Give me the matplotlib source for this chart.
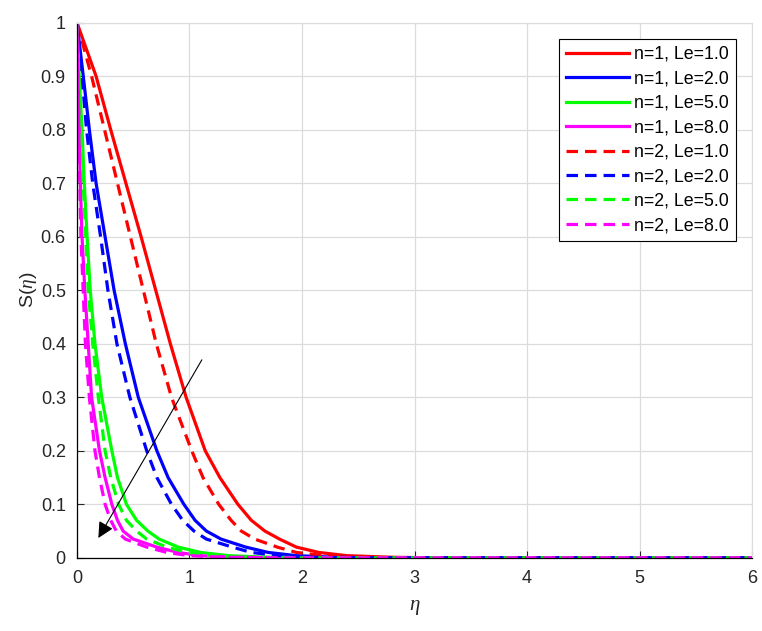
import matplotlib
matplotlib.use("Agg")
import matplotlib.pyplot as plt

plt.rcParams['font.family'] = ['Liberation Sans', 'DejaVu Sans']
plt.rcParams['mathtext.fontset'] = 'custom'
plt.rcParams['mathtext.it'] = 'Liberation Serif:italic'

# S levels shared by all curves
s_levels = [1, 0.9, 0.8, 0.7, 0.6, 0.5, 0.4, 0.3, 0.2, 0.15, 0.1, 0.07, 0.05,
            0.035, 0.02, 0.01, 0.004, 0.001, 0, 0]

# eta positions at which each curve reaches the S levels above
eta_n1_le1 = [0, 0.17, 0.30, 0.435, 0.57, 0.70, 0.83, 0.97, 1.14, 1.27, 1.43, 1.55,
              1.67, 1.80, 1.95, 2.15, 2.40, 2.80, 3.20, 6]
eta_n1_le2 = [0, 0.056, 0.11, 0.17, 0.25, 0.33, 0.43, 0.545, 0.71, 0.81, 0.95, 1.05,
              1.15, 1.28, 1.50, 1.70, 1.95, 2.30, 2.70, 6]
eta_n1_le5 = [0, 0.02, 0.045, 0.065, 0.09, 0.118, 0.16, 0.22, 0.31, 0.36, 0.44, 0.53,
              0.63, 0.73, 0.90, 1.10, 1.35, 1.70, 2.20, 6]
eta_n1_le8 = [0, 0.01, 0.02, 0.03, 0.045, 0.07, 0.10, 0.13, 0.20, 0.25, 0.31, 0.36,
              0.41, 0.50, 0.71, 0.90, 1.10, 1.40, 1.90, 6]
eta_n2_le1 = [0, 0.13, 0.245, 0.36, 0.475, 0.59, 0.705, 0.84, 1.02, 1.12, 1.26, 1.37,
              1.46, 1.58, 1.78, 1.95, 2.20, 2.50, 2.90, 6]
eta_n2_le2 = [0, 0.045, 0.085, 0.14, 0.21, 0.275, 0.355, 0.47, 0.62, 0.71, 0.84, 0.94,
              1.04, 1.15, 1.38, 1.55, 1.80, 2.10, 2.50, 6]
eta_n2_le5 = [0, 0.017, 0.037, 0.055, 0.078, 0.10, 0.14, 0.19, 0.25, 0.30, 0.37, 0.44,
              0.53, 0.62, 0.80, 0.98, 1.20, 1.50, 2.00, 6]
eta_n2_le8 = [0, 0.008, 0.016, 0.025, 0.035, 0.055, 0.075, 0.11, 0.16, 0.20, 0.25, 0.30,
              0.35, 0.43, 0.62, 0.80, 1.00, 1.30, 1.80, 6]

labels = ['n=1, Le=1.0', 'n=1, Le=2.0', 'n=1, Le=5.0', 'n=1, Le=8.0',
          'n=2, Le=1.0', 'n=2, Le=2.0', 'n=2, Le=5.0', 'n=2, Le=8.0']
series = [eta_n1_le1, eta_n1_le2, eta_n1_le5, eta_n1_le8,
          eta_n2_le1, eta_n2_le2, eta_n2_le5, eta_n2_le8]
colors = ['#ff0000', '#0000ff', '#00ff00', '#ff00ff'] * 2
styles = ['-'] * 4 + ['--'] * 4

xticks = [0, 1, 2, 3, 4, 5, 6]
yticks = [0, 0.1, 0.2, 0.3, 0.4, 0.5, 0.6, 0.7, 0.8, 0.9, 1]
yticklabels = ['0', '0.1', '0.2', '0.3', '0.4', '0.5', '0.6', '0.7', '0.8', '0.9', '1']

fig = plt.figure(figsize=(7.62, 6.31), dpi=100)
ax = fig.add_axes([0.101, 0.116, 0.886, 0.848])

for eta, lab, c, ls in zip(series, labels, colors, styles):
    line, = ax.plot(eta, s_levels, color=c, linestyle=ls, linewidth=2.3, label=lab,
                    solid_joinstyle='round')
    if ls == '--':
        line.set_dashes((3.6, 2.2))

ax.annotate('', xy=(0.19, 0.037), xytext=(1.11, 0.37),
            arrowprops=dict(arrowstyle='-|>', color='black', lw=0.8,
                            mutation_scale=24, shrinkA=0, shrinkB=0))

ax.set_xlim(0, 6)
ax.set_ylim(0, 1)
ax.set_xticks(xticks)
ax.set_yticks(yticks)
ax.set_yticklabels(yticklabels)
ax.tick_params(direction='in', length=5, width=0.8, labelsize=13, colors='#262626')
ax.tick_params(axis='y', pad=8)
ax.tick_params(axis='x', pad=9)
ax.grid(True, color='#dcdcdc', linewidth=0.9)
ax.set_axisbelow(True)
for side in ['top', 'right']:
    ax.spines[side].set_color('#dcdcdc')
for side in ['left', 'bottom']:
    ax.spines[side].set_color('black')
    ax.spines[side].set_linewidth(0.9)

ax.set_xlabel(r'$\eta$', fontsize=15, color='#262626', labelpad=8)
ax.set_ylabel(r'S($\eta$)', fontsize=14, color='#262626', labelpad=1)

leg = ax.legend(loc='upper right', bbox_to_anchor=(0.976, 0.97), fontsize=12.8,
                handlelength=3.5, handletextpad=0.3, labelspacing=0.42,
                borderpad=0.4, borderaxespad=0, fancybox=False, framealpha=1)
leg.get_frame().set_edgecolor('black')
leg.get_frame().set_linewidth(0.8)

fig.savefig('out.png', dpi=100)
